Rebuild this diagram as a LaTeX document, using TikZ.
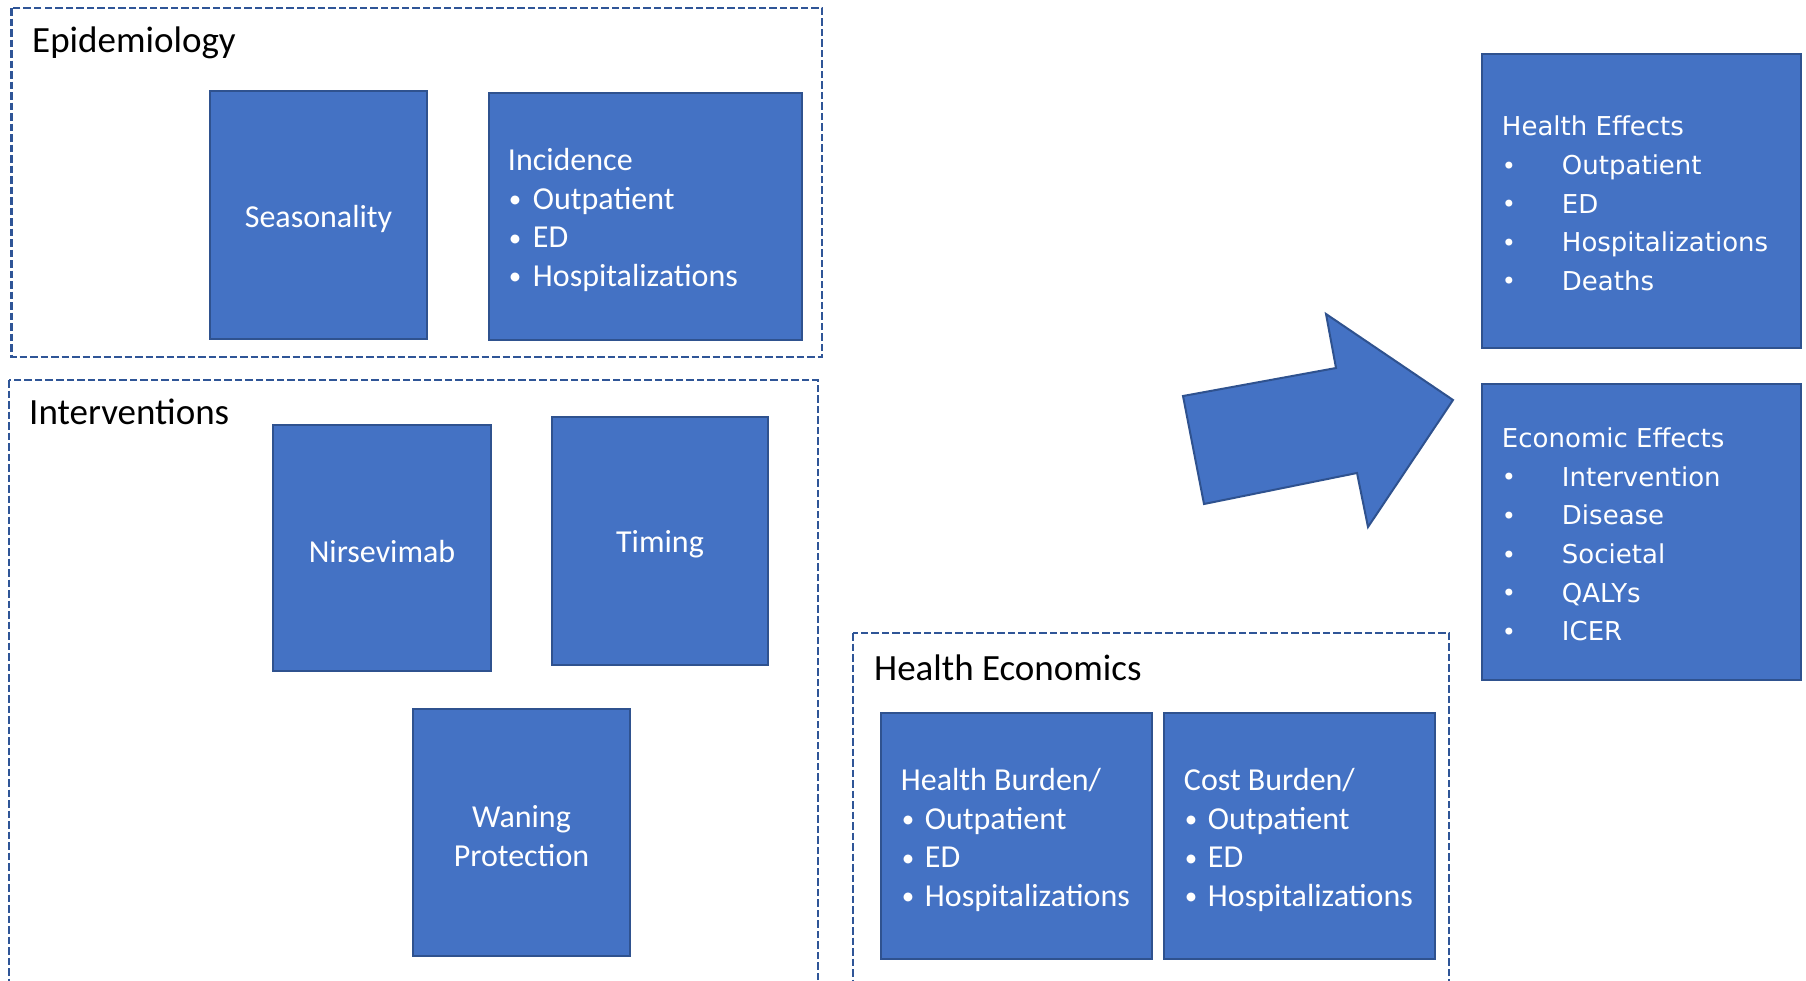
\documentclass[tikz,border=0pt]{standalone}
\usepackage{fontspec}
\setmainfont{Carlito}
\newfontfamily\verdfont{DejaVu Sans}
\definecolor{boxfill}{HTML}{4472C4}
\definecolor{boxline}{HTML}{2F528F}
\definecolor{dashline}{HTML}{2F5597}
\newcommand\bul[1]{\makebox[#1][l]{\hspace{1pt}{\fontsize{25}{25}\selectfont\raisebox{1.5pt}{\textbullet}}}}
\newcommand\vbul[1]{\makebox[#1][l]{\hspace{0pt}{\fontsize{24}{24}\selectfont\raisebox{0.5pt}{\textbullet}}}}
\begin{document}
\begin{tikzpicture}[x=1pt,y=-1pt,
  bluebox/.style={draw=boxline, line width=2.5pt, fill=boxfill, inner sep=0pt},
  centertext/.style={text=white, inner sep=0pt, anchor=center, align=center,
    font=\fontsize{32}{38.5}\selectfont},
  boxtext/.style={text=white, inner sep=0pt, anchor=west, align=left,
    font=\fontsize{32}{38.5}\selectfont},
  efftext/.style={text=white, inner sep=0pt, anchor=west, align=left,
    font=\verdfont\fontsize{26}{38.6}\selectfont},
  group/.style={draw=dashline, line width=2.3pt, dash pattern=on 7.5pt off 3pt},
  grouplabel/.style={font=\fontsize{37}{44}\selectfont, anchor=base west, inner sep=0pt, text=black},
  bigarrow/.style={draw=boxline, line width=2pt, fill=boxfill, line join=miter},
]
\useasboundingbox (0,0) rectangle (1806,980);
\clip (0,0) rectangle (1806,980);
\fill[white] (0,0) rectangle (1806,980);

% group containers
\draw[group] (11.5,8) rectangle (822,357);
\draw[group] (9,380) rectangle (818,1000);
\draw[group] (853,633) rectangle (1449,1000);

\node[grouplabel] (epilab) at (32,52) {Epidemiology};
\node[grouplabel] (intlab) at (29,424) {Interventions};
\node[grouplabel] (helab) at (874,680) {Health Economics};

% epidemiology
\node[bluebox, minimum width=217pt, minimum height=248pt] (season) at (318.5,215) {};
\node[centertext] (seasont) at ([yshift=-3.5pt]season.center) {Seasonality};
\node[bluebox, minimum width=313pt, minimum height=247pt] (incid) at (645.5,216.5) {};
\node[boxtext] (incidt) at ([xshift=20pt,yshift=-3.5pt]incid.west)
  {Incidence\\ \bul{25pt}Outpatient\\ \bul{25pt}ED\\ \bul{25pt}Hospitalizations};

% interventions
\node[bluebox, minimum width=218pt, minimum height=246pt] (nirs) at (382,548) {};
\node[centertext] (nirst) at ([yshift=-3.5pt]nirs.center) {Nirsevimab};
\node[bluebox, minimum width=216pt, minimum height=248pt] (timing) at (660,541) {};
\node[centertext] (timingt) at ([yshift=-3.5pt]timing.center) {Timing};
\node[bluebox, minimum width=217pt, minimum height=247pt] (waning) at (521.5,832.5) {};
\node[centertext] (waningt) at ([yshift=-3.5pt]waning.center) {Waning\\Protection};

% health economics
\node[bluebox, minimum width=271pt, minimum height=246pt] (hburden) at (1016.5,836) {};
\node[boxtext] (hburdent) at ([xshift=21pt,yshift=-4pt]hburden.west)
  {Health Burden/\\ \bul{24pt}Outpatient\\ \bul{24pt}ED\\ \bul{24pt}Hospitalizations};
\node[bluebox, minimum width=271pt, minimum height=246pt] (cburden) at (1299.5,836) {};
\node[boxtext] (cburdent) at ([xshift=21pt,yshift=-4pt]cburden.west)
  {Cost Burden/\\ \bul{24pt}Outpatient\\ \bul{24pt}ED\\ \bul{24pt}Hospitalizations};

% effects
\node[bluebox, minimum width=319pt, minimum height=294pt] (heff) at (1641.5,201) {};
\node[efftext] (hefft) at ([xshift=21pt,yshift=-2.5pt]heff.west)
  {Health Effects\\ \vbul{60pt}Outpatient\\ \vbul{60pt}ED\\ \vbul{60pt}Hospitalizations\\ \vbul{60pt}Deaths};
\node[bluebox, minimum width=319pt, minimum height=296pt] (eeff) at (1641.5,532) {};
\node[efftext] (eefft) at ([xshift=21pt,yshift=-2.5pt]eeff.west)
  {Economic Effects\\ \vbul{60pt}Intervention\\ \vbul{60pt}Disease\\ \vbul{60pt}Societal\\ \vbul{60pt}QALYs\\ \vbul{60pt}ICER};

% block arrow
\draw[bigarrow] (1183,396) -- (1204,504) -- (1357,473) -- (1368,527) -- (1453,400)
  -- (1326,314) -- (1336,368) -- cycle;
\end{tikzpicture}
\end{document}
